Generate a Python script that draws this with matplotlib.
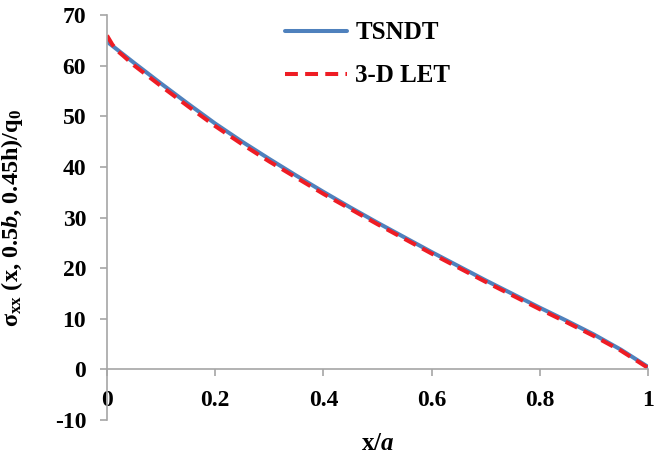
import matplotlib
matplotlib.use("Agg")
import matplotlib.pyplot as plt

# Normalized position along the plate
x_a = [0.0, 0.05, 0.1, 0.15, 0.2, 0.25, 0.3, 0.35, 0.4, 0.45, 0.5,
       0.55, 0.6, 0.65, 0.7, 0.75, 0.8, 0.85, 0.9, 0.95, 1.0]
# Normalized in-plane stress, TSNDT solution
sigma_tsndt = [64.8, 60.6, 56.5, 52.5, 48.6, 45.0, 41.6, 38.3, 35.1, 32.0, 29.0,
               26.1, 23.2, 20.4, 17.6, 14.9, 12.2, 9.6, 6.9, 3.9, 0.5]

# 3-D linear elasticity theory solution
x_a_let = [0.0, 0.01, 0.02, 0.03, 0.05, 0.1, 0.15, 0.2, 0.25, 0.3, 0.35, 0.4, 0.45,
           0.5, 0.55, 0.6, 0.65, 0.7, 0.75, 0.8, 0.85, 0.9, 0.95, 1.0]
sigma_let = [66.0, 64.2, 62.9, 62.0, 60.1, 56.0, 52.0, 48.1, 44.5, 41.1, 37.9, 34.7, 31.7,
             28.7, 25.8, 22.9, 20.1, 17.3, 14.6, 11.9, 9.3, 6.6, 3.7, 0.3]

x_ticks = [0, 0.2, 0.4, 0.6, 0.8, 1]
x_tick_labels = ["0", "0.2", "0.4", "0.6", "0.8", "1"]
y_ticks = [-10, 0, 10, 20, 30, 40, 50, 60, 70]

plt.rcParams["font.family"] = ["Liberation Serif", "DejaVu Serif"]
plt.rcParams["font.weight"] = "bold"
plt.rcParams["axes.unicode_minus"] = False
plt.rcParams["mathtext.fontset"] = "custom"
plt.rcParams["mathtext.rm"] = "Liberation Serif:bold"
plt.rcParams["mathtext.it"] = "Liberation Serif:italic:bold"
plt.rcParams["mathtext.bf"] = "Liberation Serif:bold"

fig = plt.figure(figsize=(6.67, 4.58), dpi=100)
ax = fig.add_axes([0.1604, 0.083, 0.8111, 0.8836])

ax.plot(x_a, sigma_tsndt, color="#4F81BD", lw=2.9, label="TSNDT", solid_capstyle="round")
ax.plot(x_a_let, sigma_let, color="#EE1C24", lw=2.9, ls=(0, (3.2, 1.8)), label="3-D LET")

ax.set_xlim(0, 1)
ax.set_ylim(-10, 70)
ax.set_xticks(x_ticks)
ax.set_xticklabels(x_tick_labels)
ax.set_yticks(y_ticks)

spine_color = "#A6A6A6"
for side in ("top", "right"):
    ax.spines[side].set_visible(False)
ax.spines["bottom"].set_position(("data", 0))
for side in ("bottom", "left"):
    ax.spines[side].set_color(spine_color)
    ax.spines[side].set_linewidth(1.2)

ax.tick_params(axis="x", direction="out", length=5, width=1.2, color=spine_color,
               pad=10, labelsize=17)
ax.tick_params(axis="y", direction="out", length=5, width=1.2, color=spine_color,
               pad=10, labelsize=17)
for lab in ax.get_xticklabels() + ax.get_yticklabels():
    lab.set_fontweight("bold")

ax.set_xlabel(r"x/$a$", fontsize=18, fontweight="bold")
ax.xaxis.set_label_coords(0.5, -0.03)
ax.set_ylabel(r"$\mathrm{\sigma_{xx}}$ (x, 0.5$b$, 0.45h)/q$_\mathrm{0}$",
              fontsize=17.5, fontweight="bold")
ax.yaxis.set_label_coords(-0.152, 0.5)

leg = ax.legend(loc="upper left", bbox_to_anchor=(0.329, 0.985), frameon=False,
                borderaxespad=0, borderpad=0, handlelength=2.5, handletextpad=0.32,
                labelspacing=0.8,
                prop={"family": "Liberation Serif", "weight": "bold", "size": 18})

fig.savefig("out.png", dpi=100)
